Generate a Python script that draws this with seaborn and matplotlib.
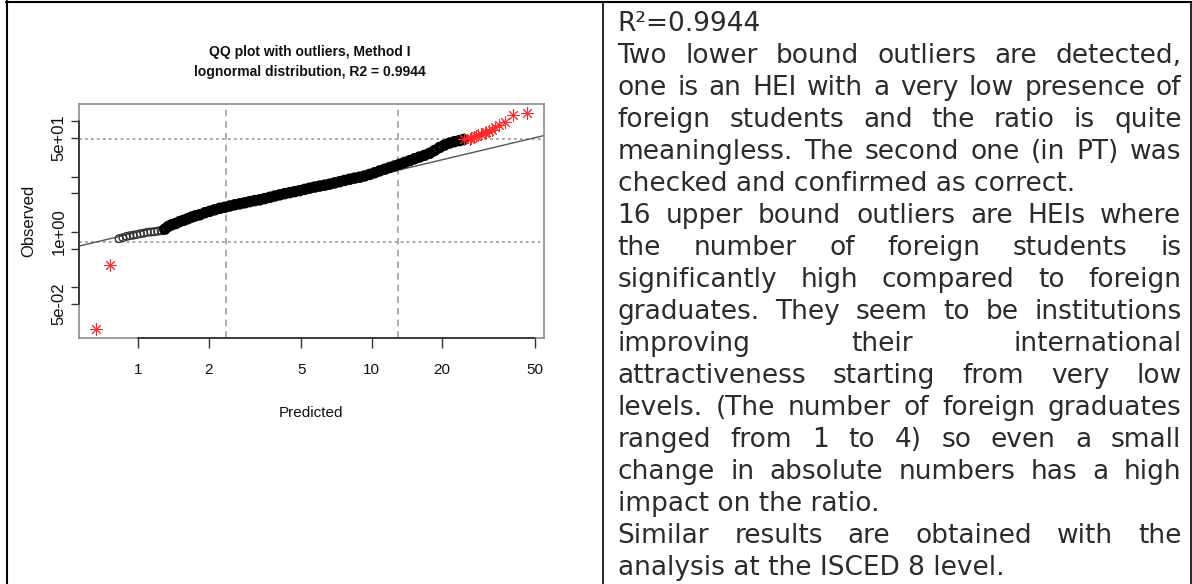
import matplotlib
matplotlib.use("Agg")
import numpy as np
import matplotlib.pyplot as plt
import seaborn as sns
from matplotlib.lines import Line2D
from matplotlib.ticker import FixedLocator, FixedFormatter, NullLocator

# QQ plot body (predicted lognormal quantile vs observed ratio)
pred = [0.827, 0.858, 0.890, 0.920, 0.952, 0.985, 1.020, 1.056, 1.093, 1.131,
        1.171, 1.212, 1.254, 1.298, 1.344, 1.391, 1.447, 1.505, 1.566, 1.629,
        1.694, 1.762, 1.834, 1.926, 2.024, 2.126, 2.233, 2.346, 2.465, 2.589,
        2.720, 2.857, 3.001, 3.153, 3.312, 3.480, 3.656, 3.840, 4.034, 4.238,
        4.452, 4.677, 4.913, 5.162, 5.423, 5.696, 5.984, 6.287, 6.604, 6.938,
        7.289, 7.656, 8.043, 8.450, 8.877, 9.324, 9.795, 10.29, 10.81, 11.36,
        11.93, 12.53, 13.17, 13.83, 14.53, 15.26, 16.03, 16.85, 17.70, 18.59,
        19.53, 20.52, 21.56, 22.64, 23.79, 24.74]
obs = [0.758, 0.790, 0.834, 0.858, 0.876, 0.902, 0.932, 0.952, 0.988, 1.000,
       1.012, 1.034, 1.055, 1.123, 1.260, 1.352, 1.421, 1.543, 1.628, 1.733,
       1.859, 1.962, 2.045, 2.221, 2.363, 2.514, 2.675, 2.787, 2.942, 3.091,
       3.222, 3.357, 3.528, 3.678, 3.802, 3.995, 4.215, 4.448, 4.674, 4.912,
       5.120, 5.336, 5.561, 5.868, 6.166, 6.453, 6.725, 6.981, 7.276, 7.677,
       8.067, 8.511, 8.943, 9.361, 9.714, 10.25, 10.91, 11.70, 12.61, 13.52,
       14.51, 15.50, 16.63, 17.91, 19.30, 20.87, 22.48, 24.12, 26.20, 29.42,
       33.31, 36.93, 40.11, 42.50, 44.48, 46.36]
assert len(pred) == len(obs)

# outliers
low_pred = [0.756, 0.660]
low_obs = [0.251, 0.0176]
up_pred = [24.98, 26.25, 26.69, 27.57, 28.04, 28.49, 29.46, 30.43, 30.94, 31.74,
           32.83, 33.91, 35.04, 37.07, 40.23, 46.18]
up_obs = [47.2, 47.8, 48.7, 50.8, 53.6, 55.8, 58.2, 61.4, 64.0, 66.7,
          68.7, 76.8, 84.4, 96.7, 130.3, 141.5]

# reference lines
vlines = [2.364, 12.91]
hlines = [0.661, 46.7]

x_ticks = [1, 2, 5, 10, 20, 50]
x_labels = ["1", "2", "5", "10", "20", "50"]
y_ticks = [0.05, 0.1, 0.5, 1, 5, 10, 50, 100]
y_labels = ["5e-02", "", "", "1e+00", "", "", "5e+01", ""]

title_lines = ["QQ plot with outliers, Method I", "lognormal distribution, R2 = 0.9944"]

text_lines = [
    "R\u00b2=0.9944",
    "Two lower bound outliers are detected,",
    "one is an HEI with a very low presence of",
    "foreign students and the ratio is quite",
    "meaningless. The second one (in PT) was",
    "checked and confirmed as correct.",
    "16 upper bound outliers are HEIs where",
    "the number of foreign students is",
    "significantly high compared to foreign",
    "graduates. They seem to be institutions",
    "improving their international",
    "attractiveness starting from very low",
    "levels. (The number of foreign graduates",
    "ranged from 1 to 4) so even a small",
    "change in absolute numbers has a high",
    "impact on the ratio.",
    "Similar results are obtained with the",
    "analysis at the ISCED 8 level.",
]
justified = [False, True, True, True, True, False, True, True, True, True,
             True, True, True, True, True, False, True, False]

sns.set_style("white")
plt.rcParams["font.family"] = ["Liberation Sans", "DejaVu Sans"]

W, H = 1192, 584
fig = plt.figure(figsize=(W / 100, H / 100), dpi=100)
ax = fig.add_axes([79 / W, 1 - 338 / H, (544 - 79) / W, (338 - 104) / H])
ax.set_xscale("log")
ax.set_yscale("log")

for v in vlines:
    ax.axvline(v, color="#a0a0a0", lw=1.2, ls=(0, (4, 3)), zorder=1)
for h in hlines:
    ax.axhline(h, color="#a0a0a0", lw=1.3, ls=(0, (1.5, 1.8)), zorder=1)

# limits like R: 4% padding in log space
allx = np.log10(pred + low_pred + up_pred)
ally = np.log10(obs + low_obs + up_obs)
px = 0.04 * (allx.max() - allx.min())
py = 0.04 * (ally.max() - ally.min())
xlim = (10 ** (allx.min() - px), 10 ** (allx.max() + px))
ylim = (10 ** (ally.min() - py), 10 ** (ally.max() + py))

ax.plot(xlim, xlim, color="#555555", lw=1.0, zorder=2)

n_sparse = 13
sns.scatterplot(x=pred[:n_sparse], y=obs[:n_sparse], ax=ax, marker="o", s=30,
                color="black", facecolors="none", edgecolor="#333333",
                linewidth=1.0, zorder=3)
sns.scatterplot(x=pred[n_sparse:], y=obs[n_sparse:], ax=ax, marker="o", s=28,
                color="black", facecolors="none", edgecolor="black",
                linewidth=3.0, zorder=3)
sns.scatterplot(x=low_pred + up_pred, y=low_obs + up_obs, ax=ax,
                marker=(8, 2, 0), s=70, color="#ff2a2a", linewidth=0.7, zorder=4)

ax.set_xlim(xlim)
ax.set_ylim(ylim)

ax.xaxis.set_major_locator(FixedLocator(x_ticks))
ax.xaxis.set_major_formatter(FixedFormatter(x_labels))
ax.xaxis.set_minor_locator(NullLocator())
ax.yaxis.set_major_locator(FixedLocator(y_ticks))
ax.yaxis.set_major_formatter(FixedFormatter(y_labels))
ax.yaxis.set_minor_locator(NullLocator())

ax.tick_params(axis="x", direction="out", length=7, width=1, color="#333333",
               pad=11, labelsize=11, labelcolor="#111111")
ax.tick_params(axis="y", direction="out", length=6, width=1, color="#333333",
               pad=3, labelsize=12, labelcolor="#111111", labelrotation=90)
plt.setp(ax.get_yticklabels(), va="center")
ax.tick_params(bottom=True, left=True)

for sp in ax.spines.values():
    sp.set_color("#8c8c8c")
    sp.set_linewidth(1.2)

# R style axis lines spanning first to last tick
ax.plot([x_ticks[0], x_ticks[-1]], [0, 0], transform=ax.get_xaxis_transform(),
        color="#333333", lw=1.3, clip_on=False, zorder=5)
ax.plot([0, 0], [y_ticks[0], y_ticks[-1]], transform=ax.get_yaxis_transform(),
        color="#333333", lw=1.3, clip_on=False, zorder=5)

ax.set_xlabel("Predicted", fontsize=11, color="#111111")
ax.xaxis.label.set_va("center")
ax.xaxis.set_label_coords(0.5, (338 - 413) / 234)
ax.set_ylabel("Observed", fontsize=12, color="#111111")
ax.yaxis.label.set_va("center")
ax.yaxis.set_label_coords((28.5 - 79) / 465, 0.5)

fig.text(310 / W, 1 - 51.7 / H, title_lines[0], ha="center", va="center",
         fontsize=10, fontweight="bold", color="#111111")
fig.text(310 / W, 1 - 71.7 / H, title_lines[1], ha="center", va="center",
         fontsize=10, fontweight="bold", color="#111111")

# table borders
for (x0, y0, x1, y1, lw) in [(6, 2.3, W, 2.3, 1.5), (7, 1.3, 7, H, 1.5),
                              (603.3, 2.3, 603.3, H, 1.2), (1190.5, 2.3, 1190.5, H, 1.2)]:
    fig.add_artist(Line2D([x0 / W, x1 / W], [1 - y0 / H, 1 - y1 / H],
                          transform=fig.transFigure, color="black", lw=lw))

# justified text column
renderer = fig.canvas.get_renderer()
left_px, right_px = 617.5, 1181.5
txt_kw = dict(fontsize=19, color="#2b2b2b", va="baseline", family="DejaVu Sans")
for k, (line, just) in enumerate(zip(text_lines, justified)):
    yy = 1 - (31.3 + 32.0 * k) / H
    if not just:
        fig.text(left_px / W, yy, line, **txt_kw)
        continue
    words = line.split()
    arts = [fig.text(0, yy, w, **txt_kw) for w in words]
    widths = [a.get_window_extent(renderer).width for a in arts]
    gap = (right_px - left_px - sum(widths)) / (len(words) - 1)
    xx = left_px
    for a, w in zip(arts, widths):
        a.set_x(xx / W)
        xx += w + gap

fig.savefig("out.png", dpi=100)
